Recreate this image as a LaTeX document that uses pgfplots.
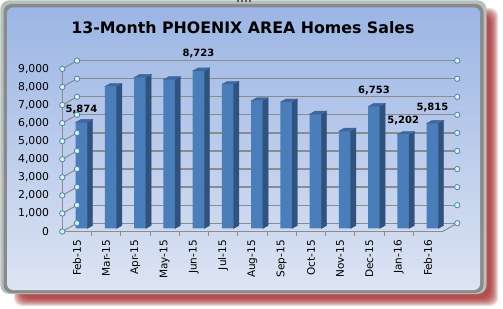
\documentclass[border=0pt]{standalone}
\usepackage{pgfplots}
\pgfplotsset{compat=1.18}
\usepackage{pgfplotstable}
\usepackage{fontspec}
\setmainfont{DejaVu Sans}
\definecolor{barfront}{HTML}{4A7EBB}
\definecolor{barside}{HTML}{30527E}
\definecolor{bartop}{HTML}{3D689F}
\definecolor{gridgray}{HTML}{8C8C8C}
\definecolor{bgtop}{HTML}{9BB5E4}
\definecolor{bgbot}{HTML}{DDE4F3}
\definecolor{framedark}{HTML}{8A8A8A}
\definecolor{framelight}{HTML}{B6C0BC}
\definecolor{shadowred}{HTML}{9E2020}
\definecolor{handlefill}{HTML}{DDF0F5}
\definecolor{handledraw}{HTML}{4A88AA}
\newcommand\ticksfont{\fontsize{10.5}{12}\selectfont}
\newcommand\yticksfont{\fontsize{10.8}{12}\selectfont}

\pgfplotstableread{
x v
0 5874
1 7860
2 8360
3 8240
4 8723
5 7980
6 7070
7 7000
8 6330
9 5390
10 6753
11 5202
12 5815
}\sales

% label text and label centre height (data units)
\pgfplotstableread{
x ly lab
0 6594 5,874
4 9664 8,723
10 7611 6,753
11 5950 5,202
12 6673 5,815
}\labels

\pgfdeclareplotmark{nothing}{}

\pgfplotsset{common/.style={scale only axis, width=380.25pt, height=162.54pt,
  xmin=-0.5, xmax=12.5, ymin=0, ymax=9000, anchor=south west, clip=false}}

\begin{document}
\begin{tikzpicture}
\begin{scope}[x=1pt,y=1pt]
\path[use as bounding box] (0,0) rectangle (503,308);
% red shadow
\foreach \k in {0,...,8} {
  \fill[shadowred, opacity=0.16, rounded corners=8pt] ({22-\k},{10-\k}) rectangle ({490+\k},{292+\k});
}
% frame
\fill[framelight, rounded corners=9pt] (0.3,14) rectangle (486.5,307.7);
\fill[framedark, rounded corners=8pt] (3.5,15) rectangle (483.5,304);
\shade[top color=bgtop, bottom color=bgbot, rounded corners=6pt] (7,18) rectangle (480,300.5);
% selection handle dots
\foreach \xx in {237,241,245,249} { \fill[gray!70!black] (\xx,306) rectangle ({\xx+2},308); }
\node[font=\bfseries\fontsize{15.8}{19}\selectfont] at (243,280.5) {13-Month PHOENIX AREA Homes Sales};
\end{scope}

% back wall grid
\begin{axis}[common, at={(77pt,84.8pt)},
  axis line style={draw=none}, tick style={draw=none},
  xtick=\empty, ytick={0,1000,...,9000}, yticklabels={},
  ymajorgrids, major grid style={gridgray, line width=1.2pt}]
\addplot[draw=none] coordinates {(0,0)};
\end{axis}

\begin{scope}[x=1pt,y=1pt]
\foreach \k in {0,...,9} {
  \draw[gridgray, line width=1pt] (62.3,{76.5+\k*18.06}) -- (77,{84.8+\k*18.06});
}
\draw[gridgray, line width=1pt] (442.55,76.5) -- (457.25,84.8);
\end{scope}

% bars
\begin{axis}[common, at={(66.9pt,79.6pt)}, hide axis]
\addplot[ybar, bar width=11.6pt, bar shift=0pt, fill=barfront, draw=none] table[x=x,y=v]{\sales};
\addplot[scatter, only marks, mark=nothing,
  visualization depends on={rawy \as \ry},
  scatter/@pre marker code/.code={%
    \pgfmathsetmacro\hh{\ry*0.01806}%
    \pgfmathsetmacro\hb{3-\hh}%
    \pgfmathsetmacro\hf{-\hh}%
    \fill[barside] (5.8pt,0pt) -- (11.2pt,3pt) -- (11.2pt,\hb pt) -- (5.8pt,\hf pt) -- cycle;
    \fill[bartop] (-5.8pt,0pt) -- (-0.4pt,3pt) -- (11.2pt,3pt) -- (5.8pt,0pt) -- cycle;
  },
  scatter/@post marker code/.code={}
] table[x=x,y=v]{\sales};
\end{axis}

% front axis with labels
\begin{axis}[common, at={(62.3pt,76.5pt)},
  axis lines*=left,
  axis line style={gridgray, line width=1.2pt},
  xtick={0,...,12},
  xticklabels={Feb-15,Mar-15,Apr-15,May-15,Jun-15,Jul-15,Aug-15,Sep-15,Oct-15,Nov-15,Dec-15,Jan-16,Feb-16},
  major tick length=0pt,
  extra x ticks={0.5,1.5,...,11.5},
  extra x tick labels={},
  extra x tick style={major tick length=4pt, tick align=outside, tick style={gridgray, line width=1pt}},
  xticklabel style={yshift=-8.5pt, rotate=90, anchor=east, inner sep=0pt, font=\ticksfont},
  ytick={0,1000,...,9000},
  yticklabel style={anchor=east, inner sep=0pt, xshift=-13pt, font=\yticksfont},
  scaled y ticks=false,
  /pgf/number format/.cd, 1000 sep={,}, assume math mode=true]
\addplot[draw=none] coordinates {(0,0)};
\end{axis}

\begin{scope}[x=1pt,y=1pt]
\foreach \k in {0,...,9} {
  \filldraw[fill=handlefill, draw=handledraw, line width=0.8pt] (62.3,{76.5+\k*18.06}) circle (2.7);
  \filldraw[fill=handlefill, draw=handledraw, line width=0.8pt] (77,{84.8+\k*18.06}) circle (2.7);
  \filldraw[fill=handlefill, draw=handledraw, line width=0.8pt] (457.25,{84.8+\k*18.06}) circle (2.7);
}
\end{scope}

% data labels
\begin{axis}[common, at={(66.9pt,79.6pt)}, hide axis]
\addplot[draw=none, mark=none, point meta=explicit symbolic,
  nodes near coords,
  every node near coord/.append style={anchor=center, inner sep=0pt,
    font=\bfseries\fontsize{10}{12}\selectfont}]
  table[x=x, y=ly, meta=lab]{\labels};
\end{axis}
\end{tikzpicture}
\end{document}
